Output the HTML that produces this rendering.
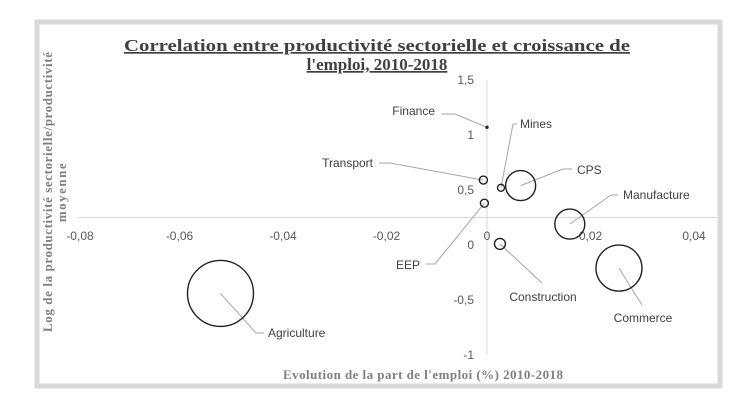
<!DOCTYPE html>
<html><head><meta charset="utf-8"><style>
html,body{margin:0;padding:0;background:#fff;width:754px;height:400px;overflow:hidden}
svg{display:block}
.lbl{font-family:"Liberation Sans",sans-serif;font-size:12px;fill:#404040}
.tick{font-family:"Liberation Sans",sans-serif;font-size:12px;fill:#595959}
.ttl{font-family:"Liberation Serif",serif;font-weight:bold;font-size:17px;fill:#404040}
.ax{font-family:"Liberation Serif",serif;font-weight:bold;font-size:13px;fill:#7f7f7f}
</style></head><body>
<svg id="chart" width="754" height="400">
<rect x="37" y="22" width="683" height="364" fill="#fff" stroke="#d9d9d9" stroke-width="5"/>
<g>
<text class="ttl" x="377" y="51" text-anchor="middle" textLength="506" lengthAdjust="spacingAndGlyphs" text-decoration="underline">Correlation entre productivité sectorielle et croissance de</text>
<text class="ttl" x="377" y="70" text-anchor="middle" text-decoration="underline">l'emploi, 2010-2018</text>
</g>
<g transform="translate(52,192) rotate(-90)">
<text class="ax" x="-140" y="0" textLength="280" lengthAdjust="spacing">Log de la productivité sectorielle/productivité</text>
<text class="ax" x="0" y="14" text-anchor="middle" letter-spacing="1.5">moyenne</text>
</g>
<text class="ax" x="283" y="379" textLength="280" lengthAdjust="spacing">Evolution de la part de l'emploi (%) 2010-2018</text>
<g id="plot"></g>
</svg>
<script>
const names=["Finance","Mines","Transport","EEP","CPS","Manufacture","Construction","Commerce","Agriculture"];
const xVals=[0,0.0027,-0.0007,-0.0005,0.0065,0.016,0.0025,0.0255,-0.0515];
const yVals=[1.07,0.52,0.59,0.38,0.54,0.19,0.01,-0.21,-0.44];
const sizes=[0.3,3.5,4,4,15,15,5.5,23,33];
const xTicks=[-0.08,-0.06,-0.04,-0.02,0,0.02,0.04];
const yTicks=[1.5,1,0.5,0,-0.5,-1];
const xTickLabels=["-0,08","-0,06","-0,04","-0,02","0","0,02","0,04"];
const yTickLabels=["1,5","1","0,5","0","-0,5","-1"];
const labelPos=[[435,115,"end",[[441,114],[455,114]]],[520,128,"start",[[517,124],[513,124]]],[373,167,"end",[[379,163],[390,163]]],[420,269,"end",[[426,264],[435,264]]],[577,174,"start",[[572,169],[563,169]]],[623,199,"start",[[618,195],[611,195]]],[543,301,"middle",[[542,283]]],[643,322,"middle",[[642,305]]],[268,337,"start",[[264,333],[256,333]]]];
const X=v=>487+v/0.02*103.5;
const Y=v=>245-v*110;
const NS="http://www.w3.org/2000/svg";
const g=document.getElementById('plot');
function mk(t,a){const e=document.createElementNS(NS,t);for(const k in a)e.setAttribute(k,a[k]);g.appendChild(e);return e;}
const xl=mk('line',{x1:78,x2:717,y1:Y(0.25),y2:Y(0.25),stroke:'#d9d9d9','stroke-width':1});


const yl=mk('line',{x1:X(0),x2:X(0),y1:Y(1.5),y2:Y(-1),stroke:'#d9d9d9','stroke-width':1});


xTicks.forEach((v,i)=>{const t=mk('text',{x:X(v)+(i===0?7:i<4?3:0),y:240,'text-anchor':'middle',class:'tick'});t.textContent=xTickLabels[i];

});
yTicks.forEach((v,i)=>{const t=mk('text',{x:X(0)-13,y:Y(v)+4,'text-anchor':'end',class:'tick'});t.textContent=yTickLabels[i];

});
names.forEach((n,i)=>{
const cx=X(xVals[i]),cy=Y(yVals[i]);const lp=labelPos[i];
const pts=lp[3].concat([[cx,cy]]).map(p=>p.join(',')).join(' ');
const ln=mk('polyline',{points:pts,fill:'none',stroke:'#a6a6a6','stroke-width':1});


const c=mk('circle',{cx:cx,cy:cy,r:Math.max(sizes[i],1),fill:i===0?'#404040':'none',stroke:'#222','stroke-width':1.4});


const t=mk('text',{x:lp[0],y:lp[1],'text-anchor':lp[2],class:'lbl'});t.textContent=n;


});
</script>
</body></html>
